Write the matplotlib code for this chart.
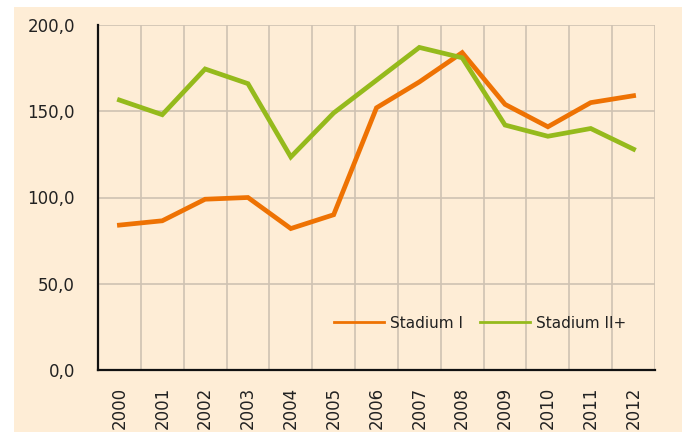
import numpy as np
import matplotlib
matplotlib.use('Agg')
import matplotlib.pyplot as plt
from matplotlib.patches import Rectangle
from matplotlib.lines import Line2D

# data
years = ['2000', '2001', '2002', '2003', '2004', '2005', '2006',
         '2007', '2008', '2009', '2010', '2011', '2012']
stadium_1 = [84, 86.5, 99, 100, 82, 90, 152, 167, 184, 154, 141, 155, 159]
stadium_2 = [156.5, 148, 174.5, 166, 123.5, 149, 168, 187, 181, 142, 135.5, 140, 128]

orange = '#EE7203'
green = '#95BA1C'
bg = '#FEEDD6'
grid_c = '#CFC2B3'

plt.rcParams['font.family'] = ['DejaVu Sans']

fig = plt.figure(figsize=(6.87, 4.32), dpi=100)
fig.patch.set_facecolor('white')
# beige panel behind everything
fig.patches.append(Rectangle((14 / 687, 0), 668 / 687, 425 / 432,
                             transform=fig.transFigure, facecolor=bg,
                             edgecolor='none', zorder=-10))

ax = fig.add_axes([98 / 687, 62 / 432, 557 / 687, 345 / 432])
ax.set_facecolor(bg)

x = np.arange(len(years)) + 0.5
ax.plot(x, stadium_1, color=orange, lw=3.4, solid_joinstyle='miter', zorder=3)
ax.plot(x, stadium_2, color=green, lw=3.4, solid_joinstyle='miter', zorder=3)

ax.set_xlim(0, len(years))
ax.set_ylim(0, 200)
ax.set_yticks([0, 50, 100, 150, 200])
ax.set_yticklabels(['0,0', '50,0', '100,0', '150,0', '200,0'], fontsize=12,
                   color='#222222')
ax.set_xticks(x)
ax.set_xticklabels(years, rotation=90, fontsize=12, color='#222222')
ax.set_xticks(np.arange(len(years) + 1), minor=True)
ax.tick_params(axis='both', which='both', length=0)
ax.tick_params(axis='y', pad=16.5)
ax.tick_params(axis='x', pad=12)

ax.grid(axis='y', which='major', color=grid_c, lw=1.2)
ax.grid(axis='x', which='minor', color=grid_c, lw=1.2)
ax.grid(axis='x', which='major', visible=False)
ax.set_axisbelow(True)

for s in ['top', 'right']:
    ax.spines[s].set_visible(False)
for s in ['left', 'bottom']:
    ax.spines[s].set_linewidth(1.6)
    ax.spines[s].set_color('#111111')

handles = [Line2D([], [], color=orange, lw=2), Line2D([], [], color=green, lw=2)]
leg = ax.legend(handles, ['Stadium I', 'Stadium II+'], loc='center left',
                bbox_to_anchor=(0.4237, 0.136), ncol=2, frameon=False,
                fontsize=11, borderpad=0, borderaxespad=0,
                handlelength=3.27, handletextpad=0.4, columnspacing=1.1)
for t in leg.get_texts():
    t.set_color('#222222')

fig.savefig('out.png', dpi=100)
